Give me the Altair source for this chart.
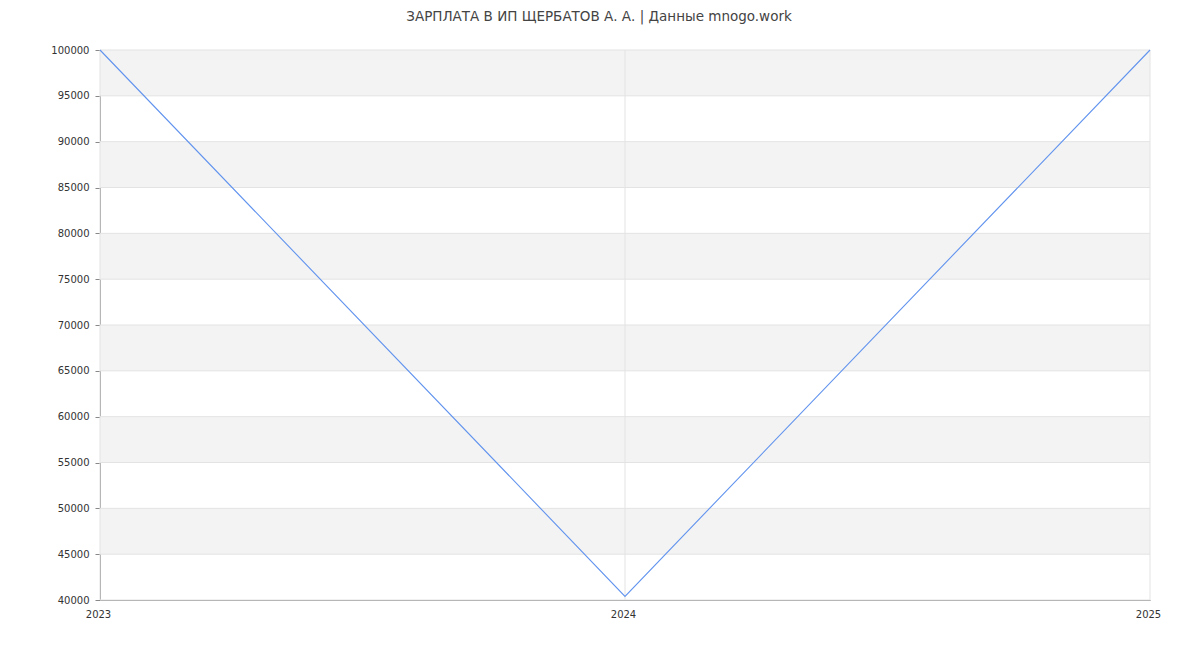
import altair as alt
import pandas as pd

years = [2023, 2024, 2025]
year_labels = ["2023", "2024", "2025"]
salary = [100000, 40400, 100000]
y_ticks = [40000, 45000, 50000, 55000, 60000, 65000, 70000, 75000, 80000, 85000, 90000, 95000, 100000]
band_starts = [45000, 55000, 65000, 75000, 85000, 95000]

line_df = pd.DataFrame({"year": years, "salary": salary})
band_df = pd.DataFrame({"y0": band_starts, "y1": [b + 5000 for b in band_starts]})
hgrid_df = pd.DataFrame({"v": y_ticks})
vgrid_df = pd.DataFrame({"year": years, "label": year_labels})

x_scale = alt.Scale(domain=[2023, 2025], nice=False, zero=False)
y_scale = alt.Scale(domain=[40000, 100000], nice=False, zero=False)

grid_color = "#e3e3e3"

y_axis = alt.Axis(values=y_ticks, title=None, format="d", grid=False,
                  tickSize=5, tickColor="#888",
                  domainColor="#888", labelFontSize=10, labelColor="#333",
                  labelPadding=6)
x_axis = alt.Axis(values=years, title=None, grid=False, labels=False,
                  ticks=False, domainColor="#888")

bands = alt.Chart(band_df).mark_rect(color="#f3f3f3").encode(
    y=alt.Y("y0:Q", scale=y_scale, axis=y_axis),
    y2="y1:Q",
    x=alt.value(0),
    x2=alt.value(1050),
)

hgrid = alt.Chart(hgrid_df).mark_rule(color=grid_color, strokeWidth=1).encode(
    y=alt.Y("v:Q", scale=y_scale, axis=y_axis),
    x=alt.value(0),
    x2=alt.value(1050),
)

vgrid = alt.Chart(vgrid_df).mark_rule(color=grid_color, strokeWidth=1).encode(
    x=alt.X("year:Q", scale=x_scale, axis=x_axis),
    y=alt.value(0),
    y2=alt.value(550),
)

xlabels = alt.Chart(vgrid_df).mark_text(
    fontSize=10, color="#333", baseline="middle", align="center", dx=-1.5
).encode(
    x=alt.X("year:Q", scale=x_scale, axis=x_axis),
    y=alt.value(565),
    text="label:N",
)

line = alt.Chart(line_df).mark_line(color="#6193ee", strokeWidth=1.1).encode(
    x=alt.X("year:Q", scale=x_scale, axis=x_axis),
    y=alt.Y("salary:Q", scale=y_scale, axis=y_axis),
)

chart = alt.layer(bands, hgrid, vgrid, line, xlabels).properties(
    width=1050,
    height=550,
    autosize=alt.AutoSizeParams(type="none"),
    padding={"left": 92, "top": 42, "right": 42, "bottom": 42},
    title=alt.TitleParams("ЗАРПЛАТА В ИП ЩЕРБАТОВ А. А. | Данные mnogo.work",
                          fontSize=13.5, fontWeight="normal", color="#444",
                          font="DejaVu Sans", anchor="middle", offset=22, dx=-26),
).configure(font="DejaVu Sans").configure_view(stroke=None)

chart.save("out.html", embed_options={"renderer": "svg", "actions": False})
